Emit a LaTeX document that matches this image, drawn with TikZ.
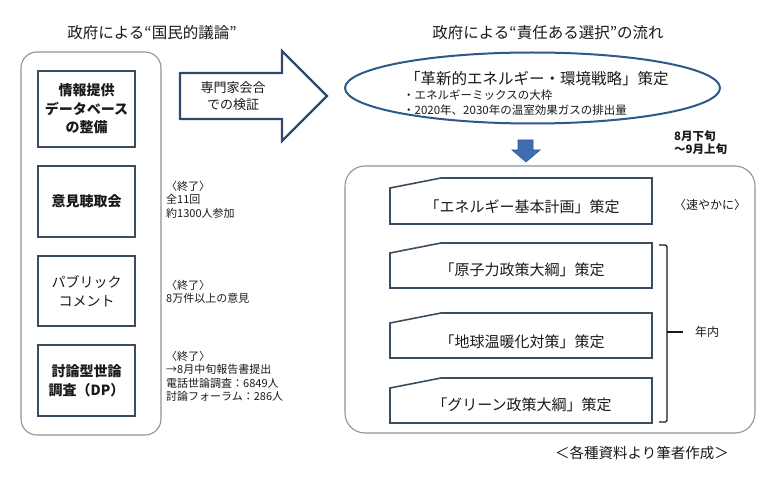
\documentclass[tikz,border=0pt]{standalone}
\usepackage{fontspec}
\setmainfont{Noto Sans CJK JP}
\definecolor{boxline}{HTML}{3B4D5F}
\definecolor{roundline}{HTML}{8896A4}
\definecolor{arrowline}{HTML}{2E4A6A}
\definecolor{ellline}{HTML}{2D5A8A}
\definecolor{downfill}{HTML}{3E6DB0}
\definecolor{txt}{HTML}{1A1A1A}
\begin{document}
\begin{tikzpicture}[x=1pt,y=-1pt,
  every node/.style={text=txt,inner sep=0pt},
  titletxt/.style={font=\fontsize{15.5pt}{18pt}\selectfont},
  roundbox/.style={draw=roundline,line width=1.1pt,rounded corners=16pt},
  itembox/.style={draw=boxline,line width=1.6pt},
  itemtxt/.style={font=\fontsize{14pt}{18.5pt}\selectfont\bfseries,align=center},
  notetxt/.style={font=\fontsize{11pt}{13.3pt}\selectfont,align=left,anchor=north west},
  snipbox/.style={draw=boxline,line width=1.6pt,line join=miter},
  sniptxt/.style={font=\fontsize{15pt}{17pt}\selectfont},
  bigarrow/.style={draw=arrowline,line width=2.2pt,fill=white,line join=miter},
  downarrow/.style={fill=downfill,draw=downfill!80!black,line width=0.6pt},
  ell/.style={draw=ellline,line width=2pt},
  bracket/.style={draw=txt,line width=1.3pt,rounded corners=1.5pt}]
\useasboundingbox[fill=white] (0,0) rectangle (768,481);

% titles
\node[titletxt] (tl) at (152,33) {政府による“国民的議論”};
\node[titletxt] (tr) at (548,33) {政府による“責任ある選択”の流れ};

% left rounded frame
\draw[roundbox] (21,52) rectangle (161,435);
\node[itembox,minimum width=97pt,minimum height=76pt,itemtxt] (b1) at (86.5,109) {情報提供\\データベース\\の整備};
\node[itembox,minimum width=97pt,minimum height=71pt,itemtxt] (b2) at (86.5,201.5) {意見聴取会};
\node[itembox,minimum width=97pt,minimum height=70pt,font=\fontsize{14pt}{18.5pt}\selectfont,align=center] (b3) at (86.5,291) {パブリック\\コメント};
\node[itembox,minimum width=97pt,minimum height=71pt,itemtxt] (b4) at (86.5,380.5) {討論型世論\\調査（DP）};

% side notes
\node[notetxt] (n2) at (166,181) {〈終了〉\\全11回\\約1300人参加};
\node[notetxt] (n3) at (166,280) {〈終了〉\\8万件以上の意見};
\node[notetxt] (n4) at (166,351) {〈終了〉\\→8月中旬報告書提出\\電話世論調査：6849人\\討論フォーラム：286人};

% big arrow
\draw[bigarrow] (180,73) -- (282,73) -- (282,51) -- (327,96) -- (282,141) -- (282,119) -- (180,119) -- cycle;
\node[font=\fontsize{13pt}{16.5pt}\selectfont,align=center] (atxt) at (233,96) {専門家会合\\での検証};

% ellipse
\draw[ell] (532.5,88) ellipse [x radius=187.5pt, y radius=35.5pt];
\node[anchor=west,font=\fontsize{15.5pt}{17pt}\selectfont] (e1) at (405,79) {「革新的エネルギー・環境戦略」策定};
\node[anchor=west,font=\fontsize{11.5pt}{13pt}\selectfont] (e2) at (403,95) {・エネルギーミックスの大枠};
\node[anchor=west,font=\fontsize{11.5pt}{13pt}\selectfont] (e3) at (403,110) {・2020年、2030年の温室効果ガスの排出量};

\node[font=\fontsize{11.5pt}{13pt}\selectfont\bfseries,align=left,anchor=north west] (date) at (674,130) {8月下旬\\～9月上旬};

% down arrow
\draw[downarrow] (518,140) -- (533,140) -- (533,150) -- (540,150) -- (526,162) -- (512,150) -- (518,150) -- cycle;

% right rounded frame
\draw[roundbox,rounded corners=20pt] (345,166) rectangle (755,433);

% snipped boxes
\draw[snipbox] (390,224) -- (390,188) -- (441,178) -- (652,178) -- (652,224) -- cycle;
\node[sniptxt] (r1) at (522,207) {「エネルギー基本計画」策定};
\draw[snipbox] (390,288) -- (390,253) -- (441,243) -- (652,243) -- (652,288) -- cycle;
\node[sniptxt] (r2) at (522,270) {「原子力政策大綱」策定};
\draw[snipbox] (390,358) -- (390,323) -- (441,313) -- (652,313) -- (652,358) -- cycle;
\node[sniptxt] (r3) at (522,342) {「地球温暖化対策」策定};
\draw[snipbox] (390,423) -- (390,388) -- (441,378) -- (652,378) -- (652,423) -- cycle;
\node[sniptxt] (r4) at (522,405) {「グリーン政策大綱」策定};

\node[font=\fontsize{12pt}{14pt}\selectfont] (fast) at (710,205) {〈速やかに〉};

% bracket
\coordinate (bt) at (659,245);
\coordinate (bb) at (659,422);
\coordinate (bm) at (683,332);
\draw[bracket] (bt) -- (667,245) -- (667,422) -- (bb);
\draw[bracket,rounded corners=0pt] (667,332) -- (bm);
\node[font=\fontsize{12pt}{14pt}\selectfont] (year) at (707,332) {年内};

% footer
\node[font=\fontsize{14.5pt}{16pt}\selectfont] (foot) at (642,453) {＜各種資料より筆者作成＞};
\end{tikzpicture}
\end{document}
